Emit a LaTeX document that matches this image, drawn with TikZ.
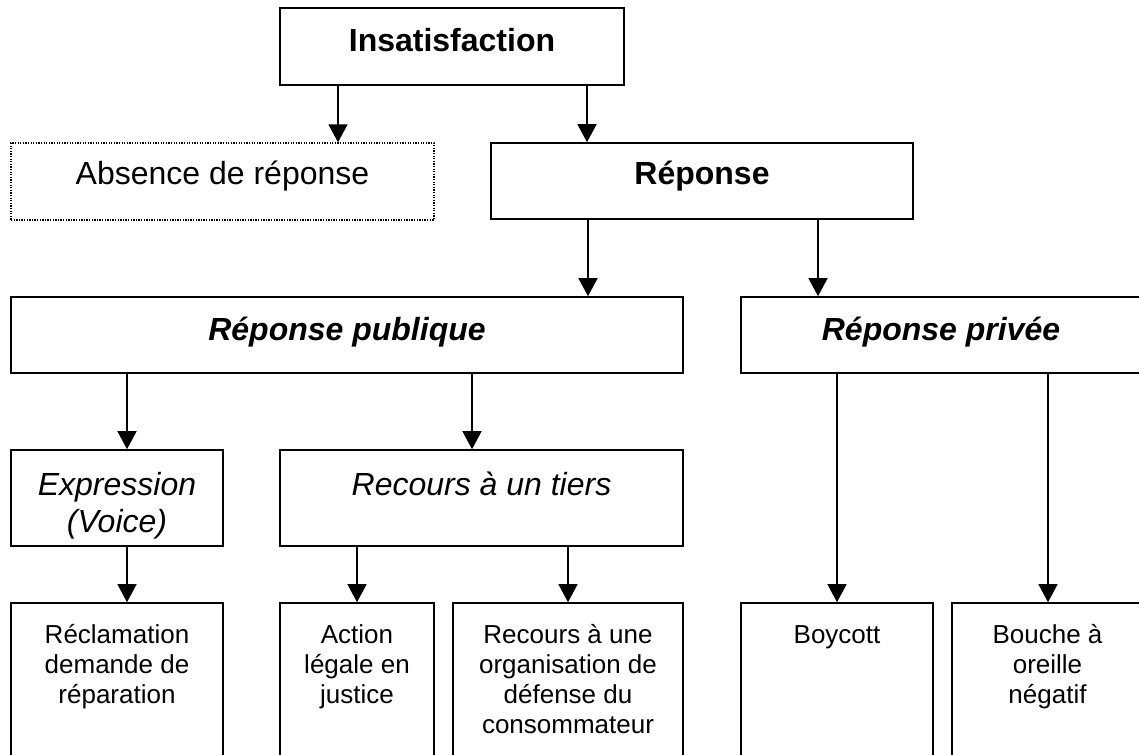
\documentclass[tikz,border=0pt]{standalone}
\usepackage{fontspec}
\setmainfont{Liberation Sans}
\usetikzlibrary{arrows.meta}

% 方框内文字：宽度、高度、首行基线位置、内容
\newcommand{\cadre}[4]{\parbox[t][#2pt][t]{#1pt}{\centering\rule{0pt}{#3pt}#4}}

\begin{document}
\begin{tikzpicture}[
		x=1pt, y=-1pt,                       % 以像素为单位，y 轴向下
		boite/.style={draw, line width=1.6pt, inner sep=0pt,
			font=\fontsize{32}{37}\selectfont},   % 普通方框
		pointille/.style={boite, line width=1.3pt,
			dash pattern=on 1.3pt off 1.3pt},     % 虚线方框（无回应）
		feuille/.style={boite, font=\fontsize{26}{30}\selectfont}, % 最底层方框
		fleche/.style={-{Triangle[width=19pt,length=18pt]}, line width=1.4pt}
		]
		\useasboundingbox (0,0) rectangle (1139,754);
		\clip (0,0) rectangle (1139,754);
		
		% 第一、二层
		\node[boite] (insat) at (452,46.5) {\cadre{344}{77}{44}{\textbf{Insatisfaction}}};
		\node[pointille] (absence) at (222.5,181.5) {\cadre{423}{77}{42}{Absence de réponse}};
		\node[boite] (reponse) at (702,181) {\cadre{422}{76}{42}{\textbf{Réponse}}};
		
		% 第三层
		\node[boite] (publique) at (347,335) {\cadre{672}{76}{43}{\textbf{\textit{Réponse publique}}}};
		\node[boite] (privee) at (941,335) {\cadre{400}{76}{43}{\textbf{\textit{Réponse privée}}}};
		
		% 第四层
		\node[boite] (expression) at (117,498) {\cadre{212}{96}{45}{\textit{Expression\\(Voice)}}};
		\node[boite] (tiers) at (481.5,498) {\cadre{403}{96}{45}{\textit{Recours à un tiers}}};
		
		% 最底层（下边被裁掉）
		\node[feuille] (reclamation) at (117,689) {\cadre{212}{172}{40}{Réclamation\\demande de\\réparation}};
		\node[feuille] (action) at (357,689) {\cadre{154}{172}{40}{Action\\légale en\\justice}};
		\node[feuille] (organisation) at (568,689) {\cadre{230}{172}{40}{Recours à une\\organisation de\\défense du\\consommateur}};
		\node[feuille] (boycott) at (837,689) {\cadre{192}{172}{40}{Boycott}};
		\node[feuille] (bouche) at (1047.5,689) {\cadre{191}{172}{40}{Bouche à\\oreille\\négatif}};
		
		% 箭头
		\draw[fleche] (338,0 |- insat.south) -- (338,0 |- absence.north);
		\draw[fleche] (587,0 |- insat.south) -- (587,0 |- reponse.north);
		\draw[fleche] (588,0 |- reponse.south) -- (588,0 |- publique.north);
		\draw[fleche] (818,0 |- reponse.south) -- (818,0 |- privee.north);
		\draw[fleche] (127,0 |- publique.south) -- (127,0 |- expression.north);
		\draw[fleche] (472,0 |- publique.south) -- (472,0 |- tiers.north);
		\draw[fleche] (837,0 |- privee.south) -- (boycott.north);
		\draw[fleche] (1048,0 |- privee.south) -- (1048,0 |- bouche.north);
		\draw[fleche] (127,0 |- expression.south) -- (127,0 |- reclamation.north);
		\draw[fleche] (357,0 |- tiers.south) -- (action.north);
		\draw[fleche] (568,0 |- tiers.south) -- (organisation.north);
	\end{tikzpicture}
\end{document}
